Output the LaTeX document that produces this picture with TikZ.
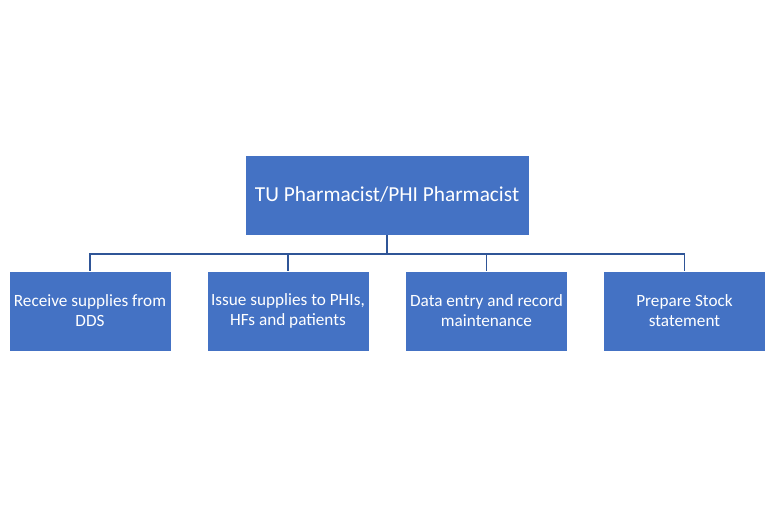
\documentclass[tikz,border=0pt]{standalone}
\usepackage{fontspec}
\setmainfont{Carlito}
\usetikzlibrary{positioning}
\definecolor{boxblue}{HTML}{4472C4}
\definecolor{linkblue}{HTML}{2F5597}

\begin{document}
\begin{tikzpicture}[x=0.75pt, y=-0.75pt,
  role/.style={rectangle, draw=white, fill=boxblue, line width=0.6pt, text=white, inner sep=0pt,
    minimum width=284*0.75pt, minimum height=80*0.75pt, font=\fontsize{16}{19}\selectfont},
  task/.style={rectangle, draw=white, fill=boxblue, line width=0.6pt, text=white, inner sep=0pt,
    minimum width=162*0.75pt, minimum height=80*0.75pt, align=center,
    font=\fontsize{12.9}{15}\selectfont},
  link/.style={draw=linkblue, line width=0.8pt},
]
% Page frame: 768 x 507 px
\useasboundingbox (0,0) rectangle (768,507);
% Head box
\node[role] (head) at (387,195) {TU Pharmacist/PHI Pharmacist};
% Duty boxes
\node[task] (recv) at (90,311) {Receive supplies from\\DDS};
\node[task] (issue) at (288,311) {Issue supplies to PHIs,\\HFs and patients};
\node[task] (data) at (486.5,311) {Data entry and record\\maintenance};
\node[task] (stock) at (684.5,311) {Prepare Stock\\statement};
% Connectors
\coordinate (bus) at (387,254);
\draw[link] (head.south) -- (bus);
\foreach \t in {recv,issue,data,stock} {
  \draw[link] (bus) -| (\t.north);
}
\end{tikzpicture}
\end{document}
